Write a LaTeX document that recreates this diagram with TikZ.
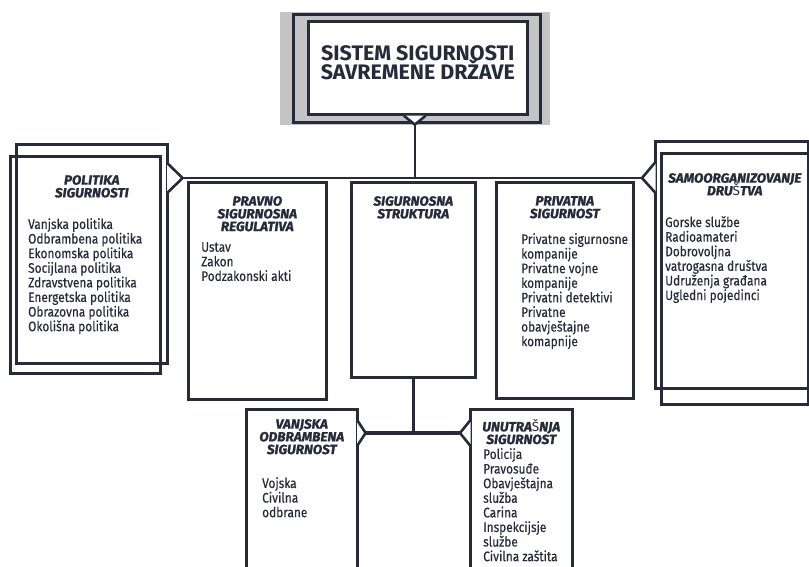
\documentclass[tikz,border=0pt]{standalone}
\usepackage{fontspec}
\setmainfont{Fira Sans}[FakeStretch=0.86,UprightFeatures={FakeBold=0.35}]
\newfontfamily\headfont{Fira Sans}[FakeStretch=1.02,BoldItalicFeatures={FakeBold=1.4}]
\usetikzlibrary{positioning}
\usetikzlibrary{calc}
\definecolor{ink}{HTML}{252B3B}
\definecolor{shade}{HTML}{C4C4C4}
\newcommand{\plainS}{{\mdseries\upshape Š}}
\newcommand{\tightlines}{\lineskiplimit=-20pt\relax}

\begin{document}
\begin{tikzpicture}[x=1pt,y=-1pt
    ,frame/.style={draw=ink,line width=2.6pt,rectangle,inner sep=0pt,anchor=north west}
    ,head/.style={inner sep=0pt,align=center,text=ink,font=\headfont\fontsize{13.3}{12.7}\selectfont\bfseries\itshape\tightlines}
    ,items/.style={inner sep=0pt,align=left,text=ink,font=\fontsize{13.8}{14.6}\selectfont\tightlines}
    ,link/.style={draw=ink,line width=2.6pt}
    ]
\useasboundingbox (0,0) rectangle (809,566);
\clip (0,0) rectangle (809,566);
% top box
\node[fill=shade,inner sep=0pt,anchor=north west,minimum width=270pt,minimum height=113pt] (back) at (280,12) {};
\node[frame,minimum width=247pt,minimum height=108pt] (outer) at (292,13) {};
\node[frame,fill=white,minimum width=219pt,minimum height=93pt] (inner) at (307,20) {};
\node[inner sep=0pt,align=center,text=ink,font=\headfont\fontsize{21}{19}\selectfont\bfseries\tightlines] (title)
  at ([yshift=5pt]inner.center) {SISTEM SIGURNOSTI\\SAVREMENE DRŽAVE};
\coordinate (topT) at ($(inner.south)+(-3,9)$);
\draw[link,fill=white] ($(topT)+(-11,-9)$) -- (topT) -- ($(topT)+(11,-9)$);

% left pair
\node[frame,minimum width=151pt,minimum height=219pt] (polB) at (15,143) {};
\node[frame,minimum width=150pt,minimum height=217pt] (polF) at (9,155) {};
\coordinate (polT) at ($(polB.north east)+(14,35)$);
\draw[link,fill=white] ($(polB.north east)+(-1.5,20)$) -- (polT) -- ($(polB.north east)+(-1.5,50)$);
\node[head,below=32pt of polB.north] (polH) {POLITIKA\\SIGURNOSTI};
\node[items,below right=63pt and 19pt of polF.north west] (polI)
  {Vanjska politika\\Odbrambena politika\\Ekonomska politika\\Socijlana politika\\Zdravstvena politika\\Energetska politika\\Obrazovna politika\\Okolišna politika};

% right pair
\node[frame,minimum width=153pt,minimum height=247pt] (samoB) at (654,140) {};
\node[frame,minimum width=147pt,minimum height=251pt] (samoF) at (660,152) {};
\coordinate (samoT) at ($(samoB.north west)+(-12,38)$);
\draw[link,fill=white] ($(samoB.north west)+(1.5,22)$) -- (samoT) -- ($(samoB.north west)+(1.5,53)$);
\node[head,below=21pt of samoF.north] (samoH) {SAMOORGANIZOVANJE\\DRU\plainS TVA};
\node[items,below right=64pt and 5pt of samoF.north west] (samoI)
  {Gorske službe\\Radioamateri\\Dobrovoljna\\vatrogasna društva\\Udruženja građana\\Ugledni pojedinci};

% middle row
\node[frame,minimum width=138pt,minimum height=217pt] (pravno) at (187,181) {};
\node[head,below=15pt of pravno.north] (pravnoH) {PRAVNO\\SIGURNOSNA\\REGULATIVA};
\node[items,below right=61pt and 14pt of pravno.north west] (pravnoI) {Ustav\\Zakon\\Podzakonski akti};

\node[frame,minimum width=124pt,minimum height=195pt] (strukt) at (350,181) {};
\node[head,below=15pt of strukt.north] (struktH) {SIGURNOSNA\\STRUKTURA};

\node[frame,minimum width=137pt,minimum height=216pt] (priv) at (495,181) {};
\node[head,below=15pt of priv.north] (privH) {PRIVATNA\\SIGURNOST};
\node[items,below right=52pt and 26pt of priv.north west] (privI)
  {Privatne sigurnosne\\kompanije\\Privatne vojne\\kompanije\\Privatni detektivi\\Privatne\\obavještajne\\komapnije};

% bottom row
\node[frame,minimum width=111pt,minimum height=175pt] (vanj) at (245,408) {};
\coordinate (vanjT) at ($(vanj.north east)+(7,25)$);
\draw[link,fill=white] ($(vanj.north east)+(-1.5,12)$) -- (vanjT) -- ($(vanj.north east)+(-1.5,38)$);
\node[head,below=11pt of vanj.north] (vanjH) {VANJSKA\\ODBRAMBENA\\SIGURNOST};
\node[items,below right=69pt and 17pt of vanj.north west] (vanjI) {Vojska\\Civilna\\odbrane};

\node[frame,minimum width=102pt,minimum height=175pt] (unut) at (469,408) {};
\coordinate (unutT) at ($(unut.north west)+(-9,25)$);
\draw[link,fill=white] ($(unut.north west)+(1.5,12)$) -- (unutT) -- ($(unut.north west)+(1.5,38)$);
\node[head,below=11pt of unut.north] (unutH) {UNUTRA\plainS NJA\\SIGURNOST};
\node[items,below right=40pt and 14pt of unut.north west] (unutI)
  {Policija\\Pravosuđe\\Obavještajna\\služba\\Carina\\Inspekcijsje\\službe\\Civilna zaštita};

% connectors
\draw[link] (topT) -- (topT |- polT);
\draw[link] (polT) -- (samoT);
\draw[link] (strukt.south) -- (strukt.south |- vanjT);
\draw[link,line width=3.6pt] (vanjT) -- (unutT);
\end{tikzpicture}
\end{document}
